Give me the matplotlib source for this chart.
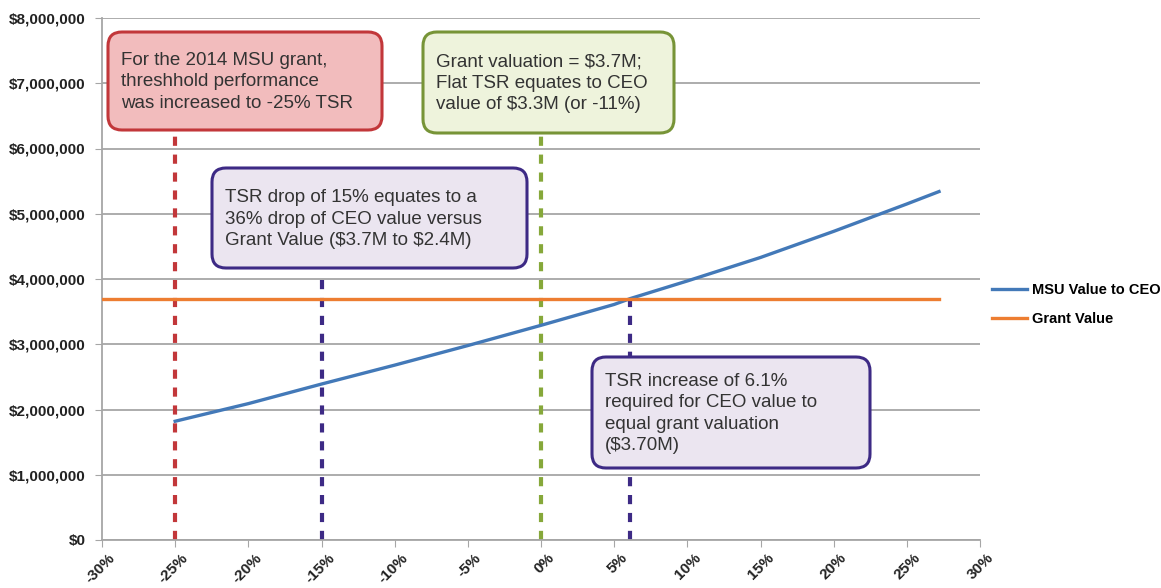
import matplotlib
matplotlib.use("Agg")
import matplotlib.pyplot as plt
from matplotlib.patches import FancyBboxPatch
from matplotlib.ticker import FuncFormatter
from matplotlib.transforms import ScaledTranslation

plt.rcParams['font.family'] = ['Liberation Sans', 'DejaVu Sans']

# Data
tsr = [-25, -20, -15, -10, -5, 0, 5, 6.1, 10, 15, 20, 25, 27.2]
msu_value = [1.82e6, 2.09e6, 2.39e6, 2.68e6, 2.98e6, 3.29e6, 3.61e6, 3.70e6, 3.97e6, 4.33e6, 4.73e6, 5.15e6, 5.34e6]
grant_x = [-30, 27.2]
grant_value = [3.7e6, 3.7e6]
x_ticks = [-30, -25, -20, -15, -10, -5, 0, 5, 10, 15, 20, 25, 30]
y_ticks = [0, 1e6, 2e6, 3e6, 4e6, 5e6, 6e6, 7e6, 8e6]

W, H = 1161, 588
fig = plt.figure(figsize=(W / 100, H / 100), dpi=100)
ax = fig.add_axes([102 / W, 1 - 540 / H, (980 - 102) / W, (540 - 18) / H])

ax.set_xlim(-30, 30)
ax.set_ylim(0, 8e6)
ax.set_yticks(y_ticks)
ax.set_xticks(x_ticks)
ax.yaxis.grid(True, color='#a6a6a6', linewidth=1.3)
ax.set_axisbelow(True)
for s in ['top', 'right']:
    ax.spines[s].set_visible(False)
for s in ['left', 'bottom']:
    ax.spines[s].set_color('#a6a6a6')
    ax.spines[s].set_linewidth(1.3)
ax.tick_params(axis='y', length=5, color='#a6a6a6', labelsize=11, pad=7, labelcolor='#222222')
ax.tick_params(axis='x', length=5, color='#a6a6a6', labelsize=11, pad=3, labelcolor='#222222')
ax.yaxis.set_major_formatter(FuncFormatter(lambda v, p: '${:,.0f}'.format(v)))
ax.xaxis.set_major_formatter(FuncFormatter(lambda v, p: '{:.0f}%'.format(v)))
for lab in ax.get_yticklabels():
    lab.set_fontweight('bold')
off = ScaledTranslation(6 / 100, 0, fig.dpi_scale_trans)
for lab in ax.get_xticklabels():
    lab.set_fontweight('bold')
    lab.set_rotation(45)
    lab.set_ha('right')
    lab.set_rotation_mode('anchor')
    lab.set_transform(lab.get_transform() + off)

# Vertical dashed markers
dash = (0, (2.2, 2.1))
ax.plot([-25, -25], [0, 6.2e6], color='#c2373a', lw=3, ls=dash, zorder=2)
ax.plot([-15, -15], [0, 4.1e6], color='#3d2a85', lw=3, ls=dash, zorder=2)
ax.plot([0, 0], [0, 6.2e6], color='#86a83a', lw=3, ls=dash, zorder=2)
ax.plot([6.1, 6.1], [0, 3.7e6], color='#3d2a85', lw=3, ls=dash, zorder=2)

l1, = ax.plot(tsr, msu_value, color='#4379b8', lw=2.4, label='MSU Value to CEO', zorder=3)
l2, = ax.plot(grant_x, grant_value, color='#ed7d31', lw=2.4, label='Grant Value', zorder=3)

leg = fig.legend(handles=[l1, l2], loc='upper left', bbox_to_anchor=(979 / W, 1 - 270 / H),
                 frameon=False, prop={'weight': 'bold', 'size': 10.5}, handlelength=2.4,
                 handletextpad=0.3, labelspacing=1.05)

def box(x0, y0, x1, y1, face, edge, text):
    p = FancyBboxPatch((x0 / W, 1 - y1 / H), (x1 - x0) / W, (y1 - y0) / H,
                       boxstyle='round,pad=0,rounding_size=0.012',
                       transform=fig.transFigure, facecolor=face, edgecolor=edge,
                       linewidth=2.2, zorder=5, mutation_aspect=W / H)
    fig.patches.append(p)
    fig.text((x0 + 13) / W, 1 - ((y0 + y1) / 2 + 1) / H, text, ha='left', va='center',
             fontsize=13.5, color='#333333', linespacing=1.32, zorder=6, parse_math=False)

box(108, 32, 382, 130, '#f2bcbd', '#c2373a',
    'For the 2014 MSU grant,\nthreshhold performance\nwas increased to -25% TSR')
box(423, 32, 674, 133, '#eef3dc', '#779437',
    'Grant valuation = $3.7M;\nFlat TSR equates to CEO\nvalue of $3.3M (or -11%)')
box(212, 168, 527, 268, '#ebe5f0', '#3d2a85',
    'TSR drop of 15% equates to a\n36% drop of CEO value versus\nGrant Value ($3.7M to $2.4M)')
box(592, 357, 870, 468, '#ebe5f0', '#3d2a85',
    'TSR increase of 6.1%\nrequired for CEO value to\nequal grant valuation\n($3.70M)')

fig.savefig('out.png', dpi=100)
